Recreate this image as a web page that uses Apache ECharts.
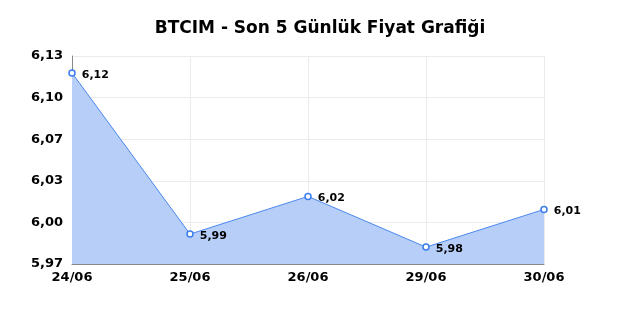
<!DOCTYPE html>
<html>
<head>
<meta charset="utf-8">
<script src="https://cdn.jsdelivr.net/npm/echarts@6/dist/echarts.min.js"></script>
<style>html,body{margin:0;padding:0;background:#fff}#c{width:640px;height:320px}</style>
</head>
<body>
<div id="c"></div>
<script>
var titleText = 'BTCIM - Son 5 Günlük Fiyat Grafiği';
var categories = ['24/06', '25/06', '26/06', '29/06', '30/06'];
var prices = [6.117, 5.993, 6.022, 5.983, 6.012];
var yMin = 5.97, yMax = 6.13, yStep = 0.032;

var fmt = function (v) { return v.toFixed(2).replace('.', ','); };
var chart = echarts.init(document.getElementById('c'));
chart.setOption({
  animation: false,
  backgroundColor: '#ffffff',
  textStyle: { fontFamily: 'DejaVu Sans' },
  title: {
    text: titleText, left: 'center', top: 15,
    textStyle: { fontFamily: 'DejaVu Sans', fontSize: 17, fontWeight: 'bold', color: '#000' }
  },
  grid: { left: 72, right: 96, top: 56, bottom: 56 },
  xAxis: {
    type: 'category', data: categories, boundaryGap: false,
    axisLine: { lineStyle: { color: '#888', width: 1 } },
    axisTick: { show: false },
    axisLabel: { color: '#000', fontWeight: 'bold', fontSize: 13, margin: 7, fontFamily: 'DejaVu Sans' },
    splitLine: { show: true, lineStyle: { color: '#ebebeb' } }
  },
  yAxis: {
    type: 'value', min: yMin, max: yMax, interval: yStep,
    axisLine: { show: true, lineStyle: { color: '#888', width: 1 } },
    axisTick: { show: false },
    axisLabel: { color: '#000', fontWeight: 'bold', fontSize: 13, margin: 9, fontFamily: 'DejaVu Sans', formatter: fmt, padding: [4, 0, 0, 0] },
    splitLine: { show: true, lineStyle: { color: '#ebebeb' } }
  },
  series: [{
    type: 'line', data: prices,
    symbol: 'circle', symbolSize: 6, showAllSymbol: true,
    itemStyle: { color: '#ffffff', borderColor: '#3b7ded', borderWidth: 1.5 },
    lineStyle: { color: '#4a88ee', width: 1 },
    areaStyle: { color: '#b7cff8', opacity: 1 },
    label: {
      show: true, position: 'right', distance: 6, offset: [0, 2],
      color: '#000', fontWeight: 'bold', fontSize: 11, fontFamily: 'DejaVu Sans',
      formatter: function (p) { return fmt(p.value); }
    }
  }]
});
</script>
</body>
</html>
